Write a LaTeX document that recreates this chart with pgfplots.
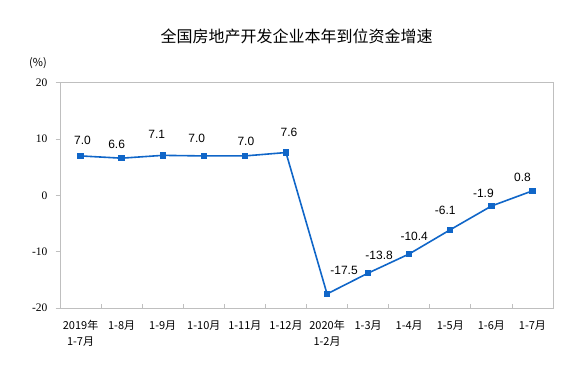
\documentclass[border=0pt]{standalone}
\usepackage{pgfplots}
\pgfplotsset{compat=1.18}
\usepackage{pgfplotstable}
\usepackage{fontspec}
\setmainfont{Liberation Serif}
\newfontfamily\cjk{Noto Sans CJK SC}
\newfontfamily\arial{Liberation Sans}
\definecolor{lineblue}{HTML}{1066C8}
\definecolor{framegray}{HTML}{BFBFBF}

\pgfplotstableread{
x y dx dy lab
0 7.0 2 16 7.0
1 6.6 -5 14 6.6
2 7.1 -6 21 7.1
3 7.0 -7 18 7.0
4 7.0 1 15 7.0
5 7.6 3 20 7.6
6 -17.5 17 23 -17.5
7 -13.8 11 18 -13.8
8 -10.4 5 18 -10.4
9 -6.1 -5 19 -6.1
10 -1.9 -8 13 -1.9
11 0.8 -10 13 0.8
}\datatable

\begin{document}
\begin{tikzpicture}
\begin{axis}[
  scale only axis,
  width=493pt, height=225.3pt,
  xmin=-0.5, xmax=11.5, ymin=-20, ymax=20,
  clip=false,
  axis line style={draw=framegray, line width=0.8pt},
  tick style={draw=framegray, line width=0.8pt},
  tick align=inside,
  major tick length=4pt,
  xtick pos=bottom, ytick pos=left,
  ytick={-20,-10,0,10,20},
  y tick style={xshift=-4.5pt},
  yticklabel style={font=\fontsize{11.5}{13}\selectfont, xshift=-9pt},
  /pgf/number format/assume math mode=true,
  xtick={0.5,1.5,...,10.5},
  xticklabels={},
  extra x ticks={0,1,2,3,4,5,6,7,8,9,10,11},
  extra x tick labels={{2019年\\1-7月},1-8月,1-9月,1-10月,1-11月,1-12月,{2020年\\1-2月},1-3月,1-4月,1-5月,1-6月,1-7月},
  extra x tick style={major tick length=0pt, tick style={draw=none},
     xticklabel style={font=\cjk\fontsize{11}{16}\selectfont, align=center, anchor=north, yshift=-9pt}},
]
\addplot[color=lineblue, line width=1.6pt, mark=square*, mark size=2.7pt,
  mark options={solid, fill=lineblue, draw=lineblue, line width=0pt},
  nodes near coords,
  point meta=explicit symbolic,
  visualization depends on={\thisrow{dx}\as\dx},
  visualization depends on={\thisrow{dy}\as\dy},
  every node near coord/.append style={anchor=center, xshift=\dx pt, yshift=\dy pt,
     font=\arial\fontsize{12}{14}\selectfont, text=black, inner sep=0pt},
] table[x=x, y=y, meta=lab] {\datatable};
\node[font=\cjk\fontsize{16}{19}\selectfont, anchor=center] at ([xshift=-10pt, yshift=46pt]rel axis cs:0.5,1) {全国房地产开发企业本年到位资金增速};
\node[font=\cjk\fontsize{11}{13}\selectfont, anchor=center] at ([xshift=-22pt, yshift=20pt]rel axis cs:0,1) {(\%)};
\end{axis}
\path ([xshift=-60pt,yshift=-57pt]current axis.south west) rectangle ([xshift=35pt,yshift=82.7pt]current axis.north east);
\end{tikzpicture}
\end{document}
